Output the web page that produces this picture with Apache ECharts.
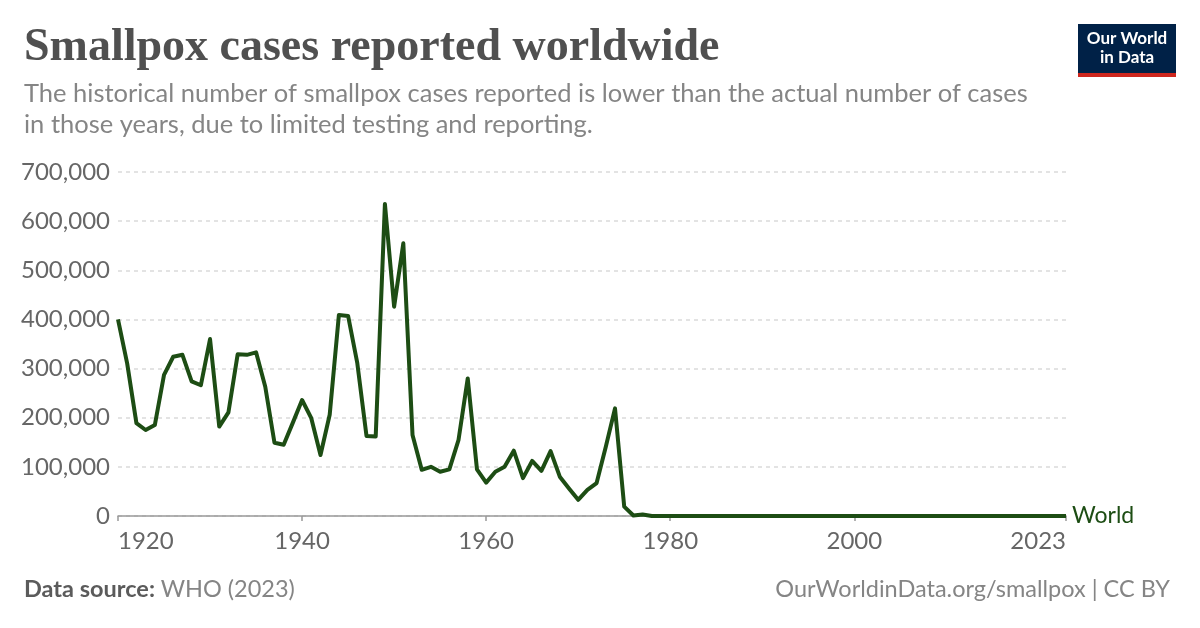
<!DOCTYPE html>
<html><head><meta charset="utf-8">
<script src="https://cdn.jsdelivr.net/npm/echarts@6/dist/echarts.min.js"></script>
<style>html,body{margin:0;padding:0;background:#fff}#c{width:1200px;height:628px}</style>
</head><body><div id="c"></div>
<script>
const years = [1920,1921,1922,1923,1924,1925,1926,1927,1928,1929,
  1930,1931,1932,1933,1934,1935,1936,1937,1938,1939,
  1940,1941,1942,1943,1944,1945,1946,1947,1948,1949,
  1950,1951,1952,1953,1954,1955,1956,1957,1958,1959,
  1960,1961,1962,1963,1964,1965,1966,1967,1968,1969,
  1970,1971,1972,1973,1974,1975,1976,1977,1978,1979,
  1980,1981,1982,1983,1984,1985,1986,1987,1988,1989,
  1990,1991,1992,1993,1994,1995,1996,1997,1998,1999,
  2000,2001,2002,2003,2004,2005,2006,2007,2008,2009,
  2010,2011,2012,2013,2014,2015,2016,2017,2018,2019,
  2020,2021,2022,2023];
const worldCases = [400000,310000,189000,175000,185000,287000,324000,328000,274000,266000,
  360000,182000,211000,329000,328000,333000,263000,149000,145000,190000,
  236000,199000,124000,206000,409000,407000,311000,163000,162000,635000,
  426000,555000,165000,94000,100000,90000,95000,155000,280000,95000,
  68000,90000,100000,133000,77000,112000,92000,132000,80000,56000,
  33000,53000,67000,141000,219000,19000,1000,3200,0,0,
  0,0,0,0,0,0,0,0,0,0,
  0,0,0,0,0,0,0,0,0,0,
  0,0,0,0,0,0,0,0,0,0,
  0,0,0,0,0,0,0,0,0,0,
  0,0,0,0];
const xTicks = [1920,1940,1960,1980,2000,2023];
const yMax = 700000, yStep = 100000;
const seriesName = 'World';
const titleText = 'Smallpox cases reported worldwide';
const subtitleLines = ['The historical number of smallpox cases reported is lower than the actual number of cases',
  'in those years, due to limited testing and reporting.'];

const GREEN = '#1d4d14';
const chart = echarts.init(document.getElementById('c'), null, {renderer:'canvas'});
chart.setOption({
  animation:false,
  backgroundColor:'#fff',
  grid:{left:118, right:134, top:172, bottom:112, containLabel:false},
  xAxis:{type:'value', min:1920, max:2023,
    axisLine:{show:true, lineStyle:{color:'#999', width:1.5}},
    axisTick:{show:true, customValues:xTicks, length:5, lineStyle:{color:'#999', width:1.5}},
    axisLabel:{customValues:xTicks, color:'#666', fontSize:24, fontFamily:'Lato', margin:13,
      alignMinLabel:'left', alignMaxLabel:'right', formatter:v=>String(v)},
    splitLine:{show:false}},
  yAxis:{type:'value', min:0, max:yMax, interval:yStep,
    axisLine:{show:false}, axisTick:{show:false},
    axisLabel:{color:'#666', fontSize:24, fontFamily:'Lato', margin:8,
      formatter:v=>v.toLocaleString('en-US')},
    splitLine:{show:true, lineStyle:{color:'#dadada', width:1.5, type:[4,4]}}},
  series:[{type:'line', name:seriesName, data:years.map((y,i)=>[y, worldCases[i]]),
    showSymbol:false, symbol:'none',
    lineStyle:{color:GREEN, width:4, join:'round'},
    endLabel:{show:true, formatter:seriesName, color:GREEN, fontSize:23, fontFamily:'Lato', distance:6}}],
  graphic:[
    {type:'text', left:24, top:25, style:{text:titleText, font:'bold 46px "Liberation Serif"', fill:'#505050'}},
    {type:'text', left:24, top:78, style:{text:subtitleLines.join('\n'), font:'25.5px Lato', fill:'#858585', lineHeight:31}},
    {type:'text', left:24, top:577, style:{rich:{b:{font:'bold 23.5px Lato', fill:'#5b5b5b'}, n:{font:'23.5px Lato', fill:'#858585'}}, text:'{b|Data source: }{n|WHO (2023)}'}},
    {type:'text', right:30, top:577, style:{text:'OurWorldinData.org/smallpox | CC BY', font:'23.5px Lato', fill:'#858585'}},
    {type:'rect', shape:{x:1078, y:24, width:98, height:50}, style:{fill:'#002147'}},
    {type:'rect', shape:{x:1078, y:73, width:98, height:4}, style:{fill:'#ce261e'}},
    {type:'text', x:1127, y:39, style:{text:'Our World', font:'bold 17px Lato', fill:'#fff', align:'center', verticalAlign:'middle'}},
    {type:'text', x:1127, y:58, style:{text:'in Data', font:'bold 17px Lato', fill:'#fff', align:'center', verticalAlign:'middle'}}
  ]
});
</script></body></html>
